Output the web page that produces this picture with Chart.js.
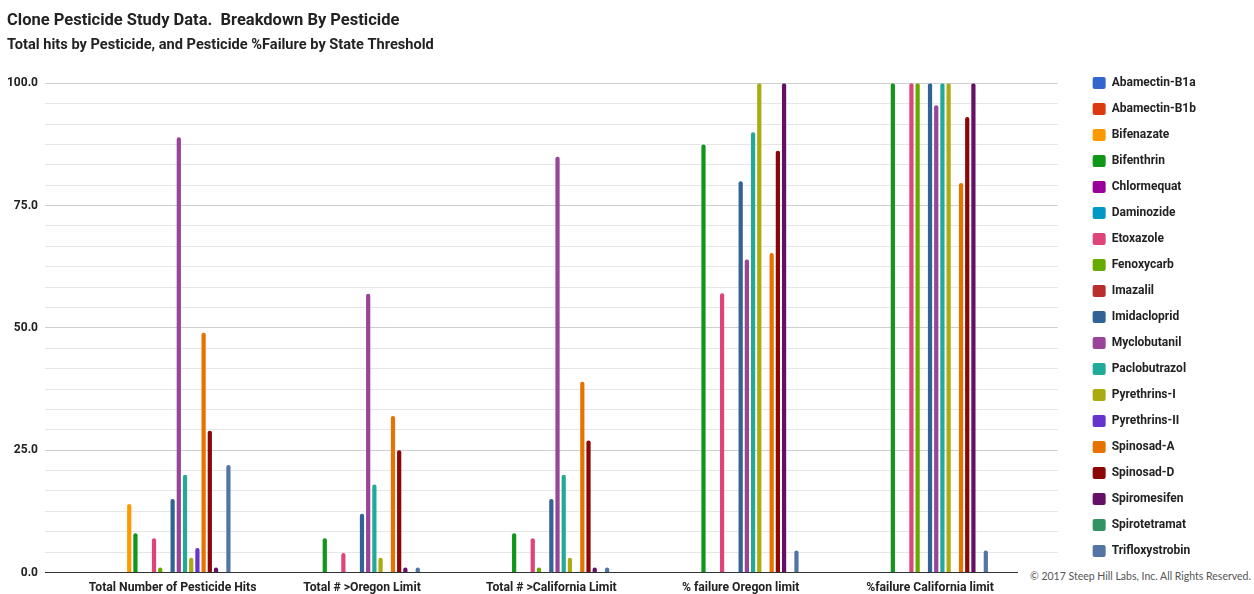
<!DOCTYPE html>
<html>
<head>
<meta charset="utf-8">
<script src="https://cdn.jsdelivr.net/npm/chart.js@4.4.1/dist/chart.umd.min.js"></script>
<style>
  html, body { margin: 0; padding: 0; background: #ffffff; }
  #wrap { position: relative; width: 1254px; height: 594px; overflow: hidden; }
  #c { position: absolute; left: 0; top: 0; }
  #copy { position: absolute; left: 1018px; top: 568px; width: 236px; height: 16px; background: #ffffff;
          font-family: Lato, "Liberation Sans", sans-serif; font-size: 10.5px; color: #555555;
          line-height: 16px; padding-left: 12px; box-sizing: border-box; white-space: nowrap; }
</style>
</head>
<body>
<div id="wrap">
  <canvas id="c" width="1254" height="594"></canvas>
  <div id="copy">© 2017 Steep Hill Labs, Inc. All Rights Reserved.</div>
</div>
<script>
// ---- data ----
const categories = [
  'Total Number of Pesticide Hits',
  'Total # >Oregon Limit',
  'Total # >California Limit',
  '% failure Oregon limit',
  '%failure California limit'
];
const pesticides = [
  'Abamectin-B1a', 'Abamectin-B1b', 'Bifenazate', 'Bifenthrin', 'Chlormequat',
  'Daminozide', 'Etoxazole', 'Fenoxycarb', 'Imazalil', 'Imidacloprid',
  'Myclobutanil', 'Paclobutrazol', 'Pyrethrins-I', 'Pyrethrins-II', 'Spinosad-A',
  'Spinosad-D', 'Spiromesifen', 'Spirotetramat', 'Trifloxystrobin'
];
const colors = [
  '#3366cc', '#dc3912', '#ff9900', '#109618', '#990099',
  '#0099c6', '#dd4477', '#66aa00', '#b82e2e', '#316395',
  '#994499', '#22aa99', '#aaaa11', '#6633cc', '#e67300',
  '#8b0707', '#651067', '#329262', '#5574a6'
];
// values per pesticide: [total hits, >Oregon, >California, %fail Oregon, %fail California]
const abamectinB1a   = [0, 0, 0, 0, 0];
const abamectinB1b   = [0, 0, 0, 0, 0];
const bifenazate     = [14, 0, 0, 0, 0];
const bifenthrin     = [8, 7, 8, 87.5, 100];
const chlormequat    = [0, 0, 0, 0, 0];
const daminozide     = [0, 0, 0, 0, 0];
const etoxazole      = [7, 4, 7, 57.1, 100];
const fenoxycarb     = [1, 0, 1, 0, 100];
const imazalil       = [0, 0, 0, 0, 0];
const imidacloprid   = [15, 12, 15, 80.0, 100];
const myclobutanil   = [89, 57, 85, 64.0, 95.5];
const paclobutrazol  = [20, 18, 20, 90.0, 100];
const pyrethrinsI    = [3, 3, 3, 100, 100];
const pyrethrinsII   = [5, 0, 0, 0, 0];
const spinosadA      = [49, 32, 39, 65.3, 79.6];
const spinosadD      = [29, 25, 27, 86.2, 93.1];
const spiromesifen   = [1, 1, 1, 100, 100];
const spirotetramat  = [0, 0, 0, 0, 0];
const trifloxystrobin= [22, 1, 1, 4.5, 4.5];
const seriesValues = [
  abamectinB1a, abamectinB1b, bifenazate, bifenthrin, chlormequat,
  daminozide, etoxazole, fenoxycarb, imazalil, imidacloprid,
  myclobutanil, paclobutrazol, pyrethrinsI, pyrethrinsII, spinosadA,
  spinosadD, spiromesifen, spirotetramat, trifloxystrobin
];
const yTickValues = [0, 25, 50, 75, 100];
const yTickLabels = ['0.0', '25.0', '50.0', '75.0', '100.0'];
const yMinorPerMajor = 6;

// ---- chart ----
const FONT = 'Roboto, "Liberation Sans", Arial, sans-serif';
const datasets = pesticides.map((name, i) => ({
  label: name,
  data: seriesValues[i],
  backgroundColor: colors[i],
  borderColor: colors[i],
  borderWidth: 0,
  borderRadius: 2,
  borderSkipped: 'bottom',
  xAxisID: 'x',
  yAxisID: 'y'
}));

function isMajor(v) {
  return yTickValues.some(t => Math.abs(t - v) < 1e-6);
}

new Chart(document.getElementById('c'), {
  type: 'bar',
  data: { labels: categories.map((_, i) => i), datasets },
  options: {
    responsive: false,
    devicePixelRatio: 1,
    animation: false,
    categoryPercentage: 0.622,
    barPercentage: 0.68,
    layout: { padding: { left: 7, right: 48, top: 0, bottom: 0 } },
    plugins: {
      tooltip: { enabled: false },
      title: {
        display: true,
        text: 'Clone Pesticide Study Data.  Breakdown By Pesticide',
        align: 'start',
        color: '#222222',
        font: { family: FONT, size: 16.5, weight: 'bold' },
        padding: { top: 11, bottom: 0 }
      },
      subtitle: {
        display: true,
        text: 'Total hits by Pesticide, and Pesticide %Failure by State Threshold',
        align: 'start',
        color: '#222222',
        font: { family: FONT, size: 14.6, weight: 'bold' },
        padding: { top: 6, bottom: 29 }
      },
      legend: {
        position: 'right',
        align: 'start',
        title: { display: true, text: '', font: { size: 12 }, padding: { top: 48.6, bottom: 0 } },
        labels: {
          boxWidth: 13,
          boxHeight: 12,
          padding: 14,
          useBorderRadius: true,
          borderRadius: 2,
          color: '#222222',
          font: { family: FONT, size: 12, weight: 'bold' }
        }
      }
    },
    scales: {
      x: {
        type: 'linear',
        position: 'bottom',
        bounds: 'data',
        offset: false,
        min: -0.674,
        max: 4.674,
        afterBuildTicks: s => { s.ticks = categories.map((_, i) => ({ value: i })); },
        afterFit: s => { s.height = 21.5; },
        grid: { display: false, drawTicks: false, offset: false },
        border: { display: false },
        ticks: {
          autoSkip: false,
          maxRotation: 0,
          padding: 8.5,
          color: '#222222',
          font: { family: FONT, size: 12.2, weight: 'bold' },
          callback: v => categories[v]
        }
      },
      y: {
        type: 'linear',
        position: 'left',
        min: 0,
        max: 100,
        afterBuildTicks: s => {
          const ticks = [];
          const n = (yTickValues.length - 1) * yMinorPerMajor;
          for (let k = 0; k <= n; k++) {
            ticks.push({ value: yTickValues[0] + (yTickValues[yTickValues.length - 1] - yTickValues[0]) * k / n });
          }
          s.ticks = ticks;
        },
        afterFit: s => { s.width = 38; },
        grid: {
          drawTicks: false,
          lineWidth: 1,
          color: ctx => {
            const v = ctx.tick ? ctx.tick.value : null;
            if (v === null) return '#e6e6e6';
            if (Math.abs(v) < 1e-6) return '#333333';
            return isMajor(v) ? '#cfcfcf' : '#e6e6e6';
          }
        },
        border: { display: false },
        ticks: {
          padding: 7,
          autoSkip: false,
          color: '#222222',
          font: { family: FONT, size: 12, weight: 'bold' },
          callback: v => {
            const idx = yTickValues.findIndex(t => Math.abs(t - v) < 1e-6);
            return idx >= 0 ? yTickLabels[idx] : '';
          }
        }
      },
      y2: {
        type: 'linear',
        position: 'right',
        display: true,
        grid: { display: false, drawTicks: false },
        border: { display: false },
        ticks: { display: false },
        afterFit: s => { s.width = 21; }
      }
    }
  }
});
</script>
</body>
</html>
